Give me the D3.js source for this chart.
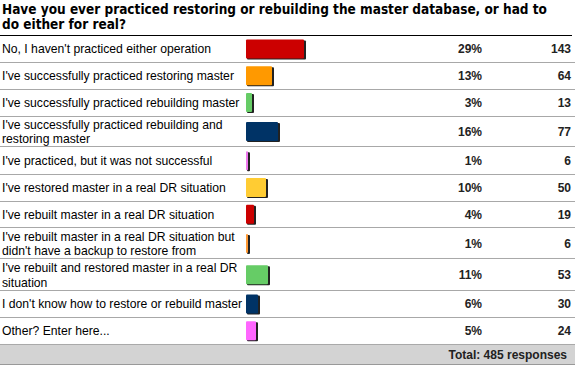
<!DOCTYPE html>
<html>
<head>
<meta charset="utf-8">
<script src="https://cdn.jsdelivr.net/npm/d3@7"></script>
<style>
  body { margin: 0; background: #fff; }
  svg { display: block; }
</style>
</head>
<body>
<script>
'use strict';

// survey answers, percentages and response counts
const answers = [
  "No, I haven't practiced either operation",
  "I've successfully practiced restoring master",
  "I've successfully practiced rebuilding master",
  "I've successfully practiced rebuilding and restoring master",
  "I've practiced, but it was not successful",
  "I've restored master in a real DR situation",
  "I've rebuilt master in a real DR situation",
  "I've rebuilt master in a real DR situation but didn't have a backup to restore from",
  "I've rebuilt and restored master in a real DR situation",
  "I don't know how to restore or rebuild master",
  "Other? Enter here..."
];
const percents = [29, 13, 3, 16, 1, 10, 4, 1, 11, 6, 5];
const counts = [143, 64, 13, 77, 6, 50, 19, 6, 53, 30, 24];
const barColors = ["#cc0000", "#ff9900", "#66cc66", "#003366", "#ee77ee", "#ffcc33",
                   "#cc0000", "#ff9933", "#66cc66", "#003366", "#ff66ff"];
const title = ["Have you ever practiced restoring or rebuilding the master database, or had to",
               "do either for real?"];
const totalLabel = "Total: 485 responses";

(function () {
  const width = 575, height = 368;
  const svg = d3.select('body').append('svg')
    .attr('width', width)
    .attr('height', height);

  const labelFont = '12.2px "Liberation Sans", Arial, sans-serif';

  // title
  svg.append('text')
    .attr('x', 2)
    .attr('y', 14)
    .style('font-family', '"DejaVu Sans Condensed", "DejaVu Sans", Verdana, sans-serif')
    .style('font-stretch', 'condensed')
    .style('font-weight', 'bold')
    .style('font-size', '13.5px')
    .selectAll('tspan')
    .data(title)
    .enter()
    .append('tspan')
    .attr('x', 2)
    .attr('dy', (d, i) => i === 0 ? 0 : 15)
    .text(d => d);

  svg.append('line')
    .attr('x1', 0).attr('x2', 572)
    .attr('y1', 35.5).attr('y2', 35.5)
    .attr('stroke', '#000')
    .attr('stroke-width', 1);

  // measure and wrap labels
  const measure = svg.append('text').style('font', labelFont);
  function wrap(str, maxW) {
    let words = str.split(' ');
    let lines = [];
    let cur = '';
    words.forEach(w => {
      let test = cur ? cur + ' ' + w : w;
      measure.text(test);
      if (measure.node().getComputedTextLength() > maxW && cur) {
        lines.push(cur);
        cur = w;
      } else {
        cur = test;
      }
    });
    lines.push(cur);
    return lines;
  }
  const wrapped = answers.map(a => wrap(a, 245));
  measure.remove();

  // row layout
  let rows = [];
  let y = 35.5;
  wrapped.forEach((lines, i) => {
    let h = lines.length === 1 ? 26.8 : 31.4;
    rows.push({ label: lines, pct: percents[i], count: counts[i], color: barColors[i], y0: y, h: h });
    y += h;
  });

  const xBar = d3.scaleLinear().domain([0, 100]).range([0, 200]);
  const barX = 246, barH = 19;

  const g = svg.selectAll('.row')
    .data(rows)
    .enter()
    .append('g')
    .attr('class', 'row')
    .attr('transform', d => 'translate(0,' + d.y0 + ')');

  // separators
  g.append('line')
    .attr('x1', 0).attr('x2', width)
    .attr('y1', d => Math.round(d.h) + 0.5 - (d.y0 % 1))
    .attr('y2', d => Math.round(d.h) + 0.5 - (d.y0 % 1))
    .attr('stroke', '#a8a8a8');

  // labels
  g.append('text')
    .style('font', labelFont)
    .attr('fill', '#000')
    .each(function (d) {
      let n = d.label.length;
      d3.select(this).selectAll('tspan')
        .data(d.label)
        .enter()
        .append('tspan')
        .attr('x', 2)
        .attr('y', (t, i) => d.h / 2 + 4.5 + (i - (n - 1) / 2) * 14.5)
        .text(t => t);
    });

  // bar shadow then bar
  g.append('rect')
    .attr('x', barX + 1)
    .attr('y', d => d.h / 2 - barH / 2 + 1)
    .attr('width', d => xBar(d.pct) + 1)
    .attr('height', barH)
    .attr('rx', 1)
    .attr('fill', '#222');

  g.append('rect')
    .attr('x', barX)
    .attr('y', d => d.h / 2 - barH / 2)
    .attr('width', d => xBar(d.pct))
    .attr('height', barH)
    .attr('rx', 1)
    .attr('fill', d => d.color);

  // percent and count
  g.append('text')
    .attr('x', 482)
    .attr('y', d => d.h / 2 + 4.5)
    .attr('text-anchor', 'end')
    .style('font', 'bold 12px "Liberation Sans", Arial, sans-serif')
    .attr('fill', '#222')
    .text(d => d.pct + '%');

  g.append('text')
    .attr('x', 571)
    .attr('y', d => d.h / 2 + 4.5)
    .attr('text-anchor', 'end')
    .style('font', 'bold 12px "Liberation Sans", Arial, sans-serif')
    .attr('fill', '#222')
    .text(d => d.count);

  // total band
  let yT = Math.round(y);
  svg.append('rect')
    .attr('x', 0).attr('y', yT + 1)
    .attr('width', width).attr('height', 19)
    .attr('fill', '#d3d3d3');
  svg.append('line')
    .attr('x1', 0).attr('x2', width)
    .attr('y1', yT + 20.5).attr('y2', yT + 20.5)
    .attr('stroke', '#999');
  svg.append('text')
    .attr('x', 567)
    .attr('y', yT + 15)
    .attr('text-anchor', 'end')
    .style('font', 'bold 12px "Liberation Sans", Arial, sans-serif')
    .attr('fill', '#222')
    .text(totalLabel);
})();
</script>
</body>
</html>
